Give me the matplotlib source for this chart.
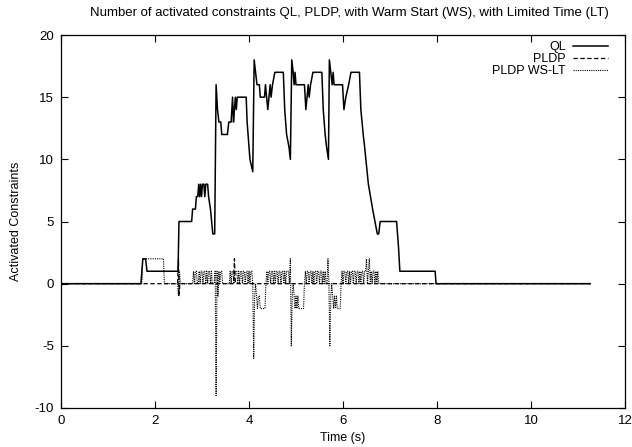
import numpy as np
import matplotlib.pyplot as plt

plt.rcParams['font.family'] = ['Liberation Sans', 'DejaVu Sans']
plt.rcParams['axes.unicode_minus'] = False

# QL: activated constraints (breakpoints, time in s)
ql_t = [0.00, 1.70, 1.74, 1.80, 1.83, 2.49, 2.51, 2.78, 2.80, 2.86, 2.88, 2.91,
        2.93, 2.95, 2.97, 2.99, 3.01, 3.04, 3.06, 3.08, 3.12, 3.14, 3.18, 3.23,
        3.27, 3.30, 3.33, 3.36, 3.40, 3.42, 3.54, 3.57, 3.62, 3.65, 3.67, 3.69,
        3.71, 3.73, 3.75, 3.94, 3.96, 4.00, 4.02, 4.08, 4.11, 4.14, 4.17, 4.22,
        4.24, 4.33, 4.35, 4.40, 4.45, 4.47, 4.50, 4.55, 4.73, 4.76, 4.80, 4.85,
        4.88, 4.91, 4.94, 4.96, 4.98, 5.00, 5.18, 5.21, 5.26, 5.28, 5.31, 5.36,
        5.55, 5.58, 5.62, 5.65, 5.69, 5.71, 5.74, 5.77, 5.79, 5.81, 5.99, 6.02,
        6.06, 6.12, 6.17, 6.35, 6.38, 6.43, 6.46, 6.54, 6.63, 6.68, 6.73, 6.76,
        6.79, 7.14, 7.16, 7.18, 7.21, 7.96, 7.98, 11.26]
ql_v = [0, 0, 2, 2, 1, 1, 5, 5, 6, 6, 7, 7,
        8, 7, 8, 7, 8, 8, 7, 8, 8, 7, 6, 4,
        4, 16, 14, 13, 13, 12, 12, 13, 13, 15, 13, 14,
        15, 14, 15, 15, 13, 11, 10, 9, 18, 17, 16, 16,
        15, 15, 16, 14, 16, 15, 16, 17, 17, 14, 12, 11,
        10, 18, 17, 16, 17, 16, 16, 14, 16, 15, 16, 17,
        17, 14, 12, 11, 10, 18, 17, 16, 17, 16, 16, 14,
        15, 16, 17, 17, 14, 12, 11, 8, 6, 5, 4, 4,
        5, 5, 4, 3, 1, 1, 0, 0]

# PLDP (breakpoints)
pldp_t = [0.00, 2.48, 2.50, 2.51, 2.53, 3.67, 3.69, 3.71, 11.26]
pldp_v = [0, 0, 2, -1, 0, 0, 2, 0, 0]

# PLDP WS-LT, sampled every 0.02 s from 1.60 s (zero elsewhere)
wslt_t0 = 1.60
wslt_dt = 0.02
wslt_end = 11.26
wslt_v = [0, 0, 0, 0, 0, 0, 0,
          2, 2, 2, 2, 2, 2, 2, 2, 2, 2, 2, 2, 2, 2, 2, 2, 2, 2, 2, 2, 2, 2, 2,
          0, 0, 0, 0, 0, 0, 0, 0, 0, 0, 0, 0, 0, 0, 0,
          -1, 1,
          0, 0, 0, 0, 0, 0, 0, 0, 0, 0, 0, 0, 0, 0,
          1, 0, 1, 1,
          0, 0,
          1, 0, 1, 1, 0, 1, 1, 0, 1, 0, 1, 1, 0, 1,
          0, 0, 0,
          1, -9, 1, -1, 1, 0, 1, 1, 0,
          0, 0, 0, 0, 0, 0, 0,
          1, 0, 1, 1, 0, 1, 1, 1, 0, 1, 0, 1, 1, 0, 1, 1, 0, 1, 1, 0, 1, 0, 1, 1, 0,
          -6,
          -1, 0, -1, -2, -1, -1, -2, -2, -2, -2, -2, -2,
          0, 1, 0, 1, 1, 0, 1, 1, 0, 1, 0, 1, 1, 0, 1, 1, 0, 1, 1, 0, 1, 0, 1, 1, 1, 0,
          2, -5,
          -1, 0, -1, -2, -1, -2, -1, -2, -2, -2, -2, -2, -2,
          0,
          1, 0, 1, 1, 0, 1, 1, 0, 1, 0, 1, 1, 0, 1, 1, 0, 1, 1, 0, 1, 0, 1, 0,
          0, 2, 0, -5,
          -1, 0, -1, -2, -1, -2, -1, -2, -2, -2, -2,
          0,
          1, 0, 1, 1, 0, 1, 1, 0, 1, 0, 1, 1, 0, 1, 1, 0, 1, 1, 0, 1, 0, 1, 1, 0, 1, 1,
          2, 0, 1, 2,
          0, 1, 0, 1, 1, 0, 1, 0, 1,
          0, 0]

wslt_t = [0.0] + [wslt_t0 + wslt_dt * i for i in range(len(wslt_v))] + [wslt_end]
wslt_y = [0] + wslt_v + [0]

fig = plt.figure(figsize=(6.32, 4.47), dpi=100)
ax = fig.add_axes([61 / 632, 1 - 408 / 447, 564 / 632, 373 / 447])

ax.plot(ql_t, ql_v, color='black', linewidth=1.1, linestyle='-', label='QL')
ax.plot(pldp_t, pldp_v, color='black', linewidth=0.9, linestyle=(0, (3.5, 2)), label='PLDP')
ax.plot(wslt_t, wslt_y, color='black', linewidth=0.8, linestyle=(0, (1, 1)), label='PLDP WS-LT')

ax.set_xlim(0, 12)
ax.set_ylim(-10, 20)
ax.set_xticks(np.arange(0, 13, 2))
ax.set_yticks(np.arange(-10, 21, 5))
ax.tick_params(direction='in', top=True, right=True, length=5, width=0.8,
               labelsize=9.5, pad=5)
for sp in ax.spines.values():
    sp.set_linewidth(0.9)

fig.text(349 / 632, 1 - 13 / 447,
         'Number of activated constraints QL, PLDP, with Warm Start (WS), with Limited Time (LT)',
         fontsize=9.5, ha='center', va='center')
ax.set_xlabel('Time (s)', fontsize=9)
ax.xaxis.set_label_coords(0.5, -(432 - 408) / 373)
ax.set_ylabel('Activated Constraints', fontsize=9)
ax.yaxis.set_label_coords(-(61 - 22) / 564, 0.5)

ax.legend(loc='upper right', bbox_to_anchor=(0.984, 1.003), frameon=False,
          markerfirst=False, fontsize=9, handlelength=2.8, handletextpad=0.6,
          labelspacing=0.0, borderaxespad=0.2)

plt.savefig('out.png', dpi=100)
